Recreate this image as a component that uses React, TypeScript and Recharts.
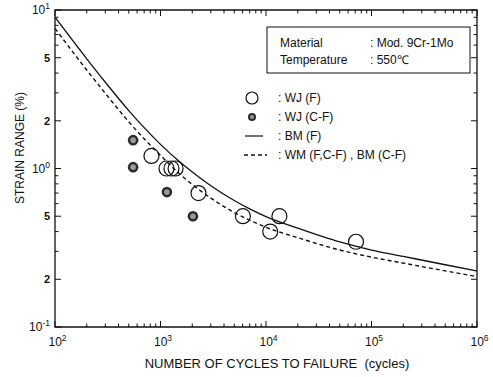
import { ComposedChart, Line, ReferenceArea, Scatter, XAxis, YAxis } from "recharts";

// fatigue curves, read at fixed cycle counts
const cycles = [100, 200, 300, 500, 700, 1000, 1500, 2000, 3000, 5000, 7000, 10000, 20000, 50000, 100000, 200000, 500000, 1000000];
const bmF = [9.0, 4.92, 3.5, 2.32, 1.81, 1.42, 1.11, 0.95, 0.778, 0.628, 0.556, 0.497, 0.42, 0.344, 0.306, 0.279, 0.247, 0.226];
const wmBmCF = [7.65, 4.18, 2.98, 1.97, 1.54, 1.21, 0.93, 0.793, 0.65, 0.528, 0.472, 0.426, 0.366, 0.306, 0.276, 0.253, 0.226, 0.208];

// test points
const wjFCycles = [821, 1140, 1270, 1390, 2290, 6040, 10960, 13400, 71300];
const wjFStrain = [1.2, 1.0, 1.0, 1.0, 0.7, 0.5, 0.4, 0.5, 0.345];
const wjCFCycles = [550, 550, 1150, 2030];
const wjCFStrain = [1.51, 1.02, 0.71, 0.5];

// axis ticks
const xDecades = [100, 1000, 10000, 100000];
const yDecades = [0.1, 1];
const minorSteps = [1, 2, 3, 4, 5, 6, 7, 8, 9];
const yLabelValues = [10, 5, 2, 1, 0.5, 0.2, 0.1];
const yLabelTexts = [["10", "1"], ["5", ""], ["2", ""], ["10", "0"], ["5", ""], ["2", ""], ["10", "-1"]];

const xTicks = [...xDecades.flatMap((d) => minorSteps.map((m) => m * d)), 1000000];
const yTicks = [...yDecades.flatMap((d) => minorSteps.map((m) => m * d)), 10];

const W = 493;
const H = 377;
const PLOT_W = 422;
const PLOT_H = 317;
const INK = "#111";
const FONT = "'Liberation Sans', Arial, Helvetica, sans-serif";

const curve = (ys: number[]) => cycles.map((n, i) => ({ n, s: ys[i] }));
const points = (xs: number[], ys: number[]) => xs.map((n, i) => ({ n, s: ys[i] }));

function isDecade(v: number) {
  const l = Math.log10(v);
  return Math.abs(l - Math.round(l)) < 1e-6;
}

function XTick(props: any) {
  const { x, y, payload } = props;
  const v = payload.value;
  const major = isDecade(v);
  const len = major ? 6 : 3.5;
  return (
    <g>
      <line x1={x} x2={x} y1={y} y2={y - len} stroke={INK} />
      <line x1={x} x2={x} y1={y - PLOT_H} y2={y - PLOT_H + len} stroke={INK} />
      {major && (
        <text x={x - 6.5} y={y + 19} fontSize={12} fill={INK} fontFamily={FONT}>
          10
          <tspan dy={-5} fontSize={8.5}>
            {Math.round(Math.log10(v))}
          </tspan>
        </text>
      )}
    </g>
  );
}

function YTick(props: any) {
  const { x, y, payload } = props;
  const v = payload.value;
  const idx = yLabelValues.findIndex((t) => Math.abs(t - v) < 1e-9);
  const len = idx >= 0 ? 6 : 3.5;
  const lbl = idx >= 0 ? yLabelTexts[idx] : null;
  return (
    <g>
      <line x1={x} x2={x + len} y1={y} y2={y} stroke={INK} />
      <line x1={x + PLOT_W} x2={x + PLOT_W - len} y1={y} y2={y} stroke={INK} />
      {lbl && (
        <text x={x - 5} y={y + 4} fontSize={lbl[1] ? 12 : 11} fontWeight={lbl[1] ? 400 : 700} textAnchor="end" fill={INK} fontFamily={FONT}>
          {lbl[0]}
          {lbl[1] && (
            <tspan dy={-5} fontSize={8.5}>
              {lbl[1]}
            </tspan>
          )}
        </text>
      )}
    </g>
  );
}

const openCircle = (p: any) => <circle cx={p.cx} cy={p.cy} r={7.5} fill="none" stroke={INK} strokeWidth={1.2} />;
const shadedCircle = (p: any) => (
  <g>
    <circle cx={p.cx} cy={p.cy} r={5.3} fill="#2b2b2b" />
    <circle cx={p.cx} cy={p.cy} r={2.8} fill="#9a9a9a" />
  </g>
);

export default function App() {
  return (
    <div style={{ position: "absolute", left: 0, top: 0, width: W, height: H, background: "#fff" }}>
      <ComposedChart width={W} height={H} margin={{ top: 10, right: 16, bottom: 0, left: 0 }}>
        <XAxis
          dataKey="n"
          type="number"
          scale="log"
          domain={[100, 1000000]}
          allowDataOverflow
          ticks={xTicks}
          interval={0}
          height={50}
          tick={(p: any) => <XTick {...p} />}
          tickSize={0}
          tickMargin={0}
          tickLine={false}
          axisLine={false}
        />
        <YAxis
          type="number"
          scale="log"
          domain={[0.1, 10]}
          allowDataOverflow
          ticks={yTicks}
          interval={0}
          width={55}
          tick={(p: any) => <YTick {...p} />}
          tickSize={0}
          tickMargin={0}
          tickLine={false}
          axisLine={false}
        />
        <ReferenceArea x1={100} x2={1000000} y1={0.1} y2={10} fill="none" stroke={INK} strokeWidth={1.3} ifOverflow="visible" />
        <Line data={curve(bmF)} dataKey="s" type="monotone" stroke={INK} strokeWidth={1.3} dot={false} isAnimationActive={false} />
        <Line
          data={curve(wmBmCF)}
          dataKey="s"
          type="monotone"
          stroke={INK}
          strokeWidth={1.4}
          strokeDasharray="4 3"
          dot={false}
          isAnimationActive={false}
        />
        <Scatter data={points(wjFCycles, wjFStrain)} dataKey="s" shape={openCircle} isAnimationActive={false} />
        <Scatter data={points(wjCFCycles, wjCFStrain)} dataKey="s" shape={shadedCircle} isAnimationActive={false} />
      </ComposedChart>

      <svg width={W} height={H} style={{ position: "absolute", left: 0, top: 0, pointerEvents: "none" }} fontFamily={FONT} fill={INK}>
        <text x={277} y={368} fontSize={13} textAnchor="middle">
          NUMBER OF CYCLES TO FAILURE{"\u00a0\u00a0"}(cycles)
        </text>
        <text x={20} y={148} fontSize={12} textAnchor="middle" dominantBaseline="central" transform="rotate(-90 20 148)">
          STRAIN RANGE (%)
        </text>

        <rect x={267} y={27} width={203} height={46} fill="#fff" stroke={INK} strokeWidth={1} />
        <text x={280} y={47} fontSize={12}>Material</text>
        <text x={280} y={64} fontSize={12}>Temperature</text>
        <text x={370} y={47} fontSize={12}>: Mod. 9Cr-1Mo</text>
        <text x={370} y={64} fontSize={12}>: 550℃</text>

        <circle cx={252} cy={98} r={6} fill="none" stroke={INK} strokeWidth={1.2} />
        <circle cx={252} cy={117} r={4} fill="#2b2b2b" />
        <circle cx={252} cy={117} r={2} fill="#9a9a9a" />
        <line x1={245} x2={263} y1={136} y2={136} stroke={INK} strokeWidth={1.2} />
        <line x1={244} x2={267} y1={155} y2={155} stroke={INK} strokeWidth={1.3} strokeDasharray="4 3" />
        <text x={278} y={102} fontSize={12}>: WJ (F)</text>
        <text x={278} y={121} fontSize={12}>: WJ (C-F)</text>
        <text x={278} y={140} fontSize={12}>: BM (F)</text>
        <text x={278} y={159} fontSize={12}>: WM (F,C-F) , BM (C-F)</text>
      </svg>
    </div>
  );
}
